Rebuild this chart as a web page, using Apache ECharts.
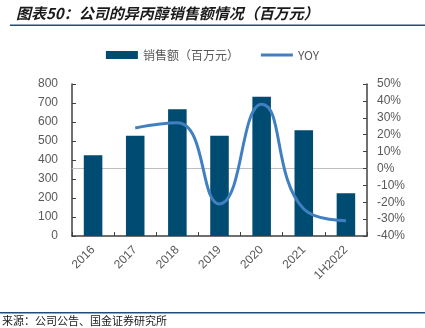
<!DOCTYPE html>
<html><head><meta charset="utf-8">
<script src="https://cdn.jsdelivr.net/npm/echarts@6/dist/echarts.min.js"></script>
<style>html,body{margin:0;padding:0;background:#fff}#c{width:425px;height:328px}</style>
</head><body><div id="c"></div>
<script>
const categories = ['2016','2017','2018','2019','2020','2021','1H2022'];
const sales = [425, 528, 667, 528, 733, 556, 225];
const yoy = [null, 24, 27, -21, 38, -24, -31];
const leftTicks = {min:0, max:800, interval:100};
const rightTicks = {min:-40, max:50, interval:10};

const chart = echarts.init(document.getElementById('c'), null, {renderer:'canvas'});
const labelColor = '#595959';
const axisColor = '#404040';
chart.setOption({
  animation:false,
  textStyle:{fontFamily:'Liberation Sans, Arial, sans-serif'},
  graphic:[
    {type:'text', left:16, top:6, style:{text:'图表50：公司的异丙醇销售额情况（百万元）', font:'italic bold 15px "Noto Sans CJK SC"', fill:'#1a1a1a'}},
    {type:'rect', shape:{x:10, y:24.5, width:415, height:1.5}, style:{fill:'#1f4e79'}},
    {type:'rect', shape:{x:0, y:312, width:425, height:1.5}, style:{fill:'#1f4e79'}},
    {type:'text', left:2, top:315, style:{text:'来源：公司公告、国金证券研究所', font:'11px "Noto Sans CJK SC"', fill:'#1a1a1a'}}
  ],
  legend:{
    top:44, left:'center', itemGap:22,
    itemWidth:32, itemHeight:8, symbolKeepAspect:true,
    textStyle:{color:labelColor, fontSize:12, fontFamily:'Noto Sans CJK SC'},
    data:[{name:'销售额（百万元）', icon:'rect'}, {name:'YOY', icon:'path://M0,0H34V3H0Z'}]
  },
  grid:{left:72, right:58, top:84, bottom:92},
  xAxis:[{
    type:'category', data:categories, position:'bottom',
    axisLine:{lineStyle:{color:axisColor, width:1.5}},
    axisTick:{show:true, inside:true, length:4, lineStyle:{color:axisColor}},
    axisLabel:{rotate:45, color:labelColor, fontSize:12, margin:12, interval:0}
  },{
    type:'category', data:categories, position:'top',
    axisLine:{lineStyle:{color:'#bfbfbf', width:1}},
    axisTick:{show:false}, axisLabel:{show:false}
  }],
  yAxis:[{
    type:'value', min:leftTicks.min, max:leftTicks.max, interval:leftTicks.interval,
    axisLine:{show:true, lineStyle:{color:axisColor, width:1.5}},
    axisTick:{show:true, inside:true, length:4, lineStyle:{color:axisColor}},
    axisLabel:{color:labelColor, fontSize:12, margin:14},
    splitLine:{show:false}
  },{
    type:'value', min:rightTicks.min, max:rightTicks.max, interval:rightTicks.interval,
    position:'right',
    axisLine:{show:true, lineStyle:{color:axisColor, width:1.5}},
    axisTick:{show:true, inside:true, length:4, lineStyle:{color:axisColor}},
    axisLabel:{color:labelColor, fontSize:12, margin:10, formatter:'{value}%'},
    splitLine:{show:false}
  }],
  series:[{
    name:'销售额（百万元）', type:'bar', data:sales, yAxisIndex:0,
    barWidth:'44%', itemStyle:{color:'#004b71'}
  },{
    name:'YOY', type:'line', data:yoy, yAxisIndex:1, smooth:0.5,
    symbol:'none', lineStyle:{color:'#4080c1', width:3}, itemStyle:{color:'#4080c1'}
  }]
});
</script></body></html>
